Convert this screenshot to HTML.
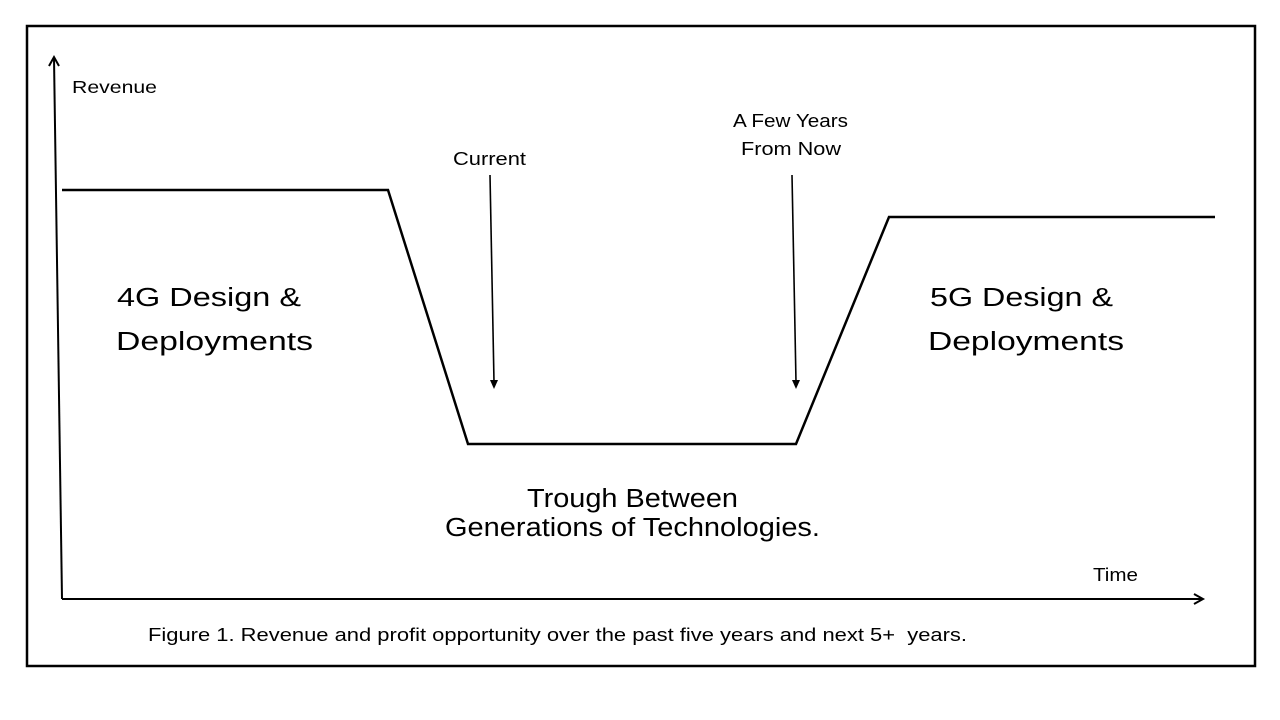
<!DOCTYPE html>
<html>
<head>
<meta charset="utf-8">
<style>
  html, body { margin: 0; padding: 0; background: #fff; }
  svg { display: block; }
  text { font-family: "Liberation Sans", sans-serif; fill: #000; }
</style>
</head>
<body>
<svg width="1280" height="720" viewBox="0 0 1280 720" xmlns="http://www.w3.org/2000/svg">
  <rect x="0" y="0" width="1280" height="720" fill="#fff"/>
  <!-- outer frame -->
  <rect x="27" y="26" width="1228" height="640" fill="none" stroke="#000" stroke-width="2.5"/>

  <!-- y axis -->
  <line x1="62" y1="599" x2="54" y2="58" stroke="#000" stroke-width="2"/>
  <polyline points="49,66 54,57 59,66" fill="none" stroke="#000" stroke-width="2"/>
  <!-- x axis -->
  <line x1="62" y1="599" x2="1203" y2="599" stroke="#000" stroke-width="2"/>
  <polyline points="1194,594 1203,599 1194,604" fill="none" stroke="#000" stroke-width="2"/>

  <!-- revenue curve -->
  <polyline points="62,190 388,190 468,444 796,444 889,217 1215,217" fill="none" stroke="#000" stroke-width="2.5" stroke-linejoin="miter"/>

  <!-- pointer arrows -->
  <line x1="490" y1="175" x2="494" y2="382" stroke="#000" stroke-width="1.6"/>
  <polygon points="490,380 498,380 494,389" fill="#000"/>
  <line x1="792" y1="175" x2="796" y2="382" stroke="#000" stroke-width="1.6"/>
  <polygon points="792,380 800,380 796,389" fill="#000"/>

  <!-- labels -->
  <text x="72" y="93" font-size="17.5" textLength="85" lengthAdjust="spacingAndGlyphs">Revenue</text>
  <text x="453" y="165" font-size="18.5" textLength="73" lengthAdjust="spacingAndGlyphs">Current</text>
  <text x="733" y="127" font-size="18.5" textLength="115" lengthAdjust="spacingAndGlyphs">A Few Years</text>
  <text x="741" y="155" font-size="18.5" textLength="100" lengthAdjust="spacingAndGlyphs">From Now</text>

  <text x="117" y="306" font-size="25.5" textLength="184" lengthAdjust="spacingAndGlyphs">4G Design &amp;</text>
  <text x="116" y="350" font-size="25.5" textLength="197" lengthAdjust="spacingAndGlyphs">Deployments</text>

  <text x="930" y="306" font-size="25.5" textLength="183" lengthAdjust="spacingAndGlyphs">5G Design &amp;</text>
  <text x="928" y="350" font-size="25.5" textLength="196" lengthAdjust="spacingAndGlyphs">Deployments</text>

  <text x="527" y="507" font-size="25.5" textLength="211" lengthAdjust="spacingAndGlyphs">Trough Between</text>
  <text x="445" y="536" font-size="25.5" textLength="375" lengthAdjust="spacingAndGlyphs">Generations of Technologies.</text>

  <text x="1093" y="581" font-size="18.5" textLength="45" lengthAdjust="spacingAndGlyphs">Time</text>

  <text x="148" y="641" font-size="18" textLength="819" lengthAdjust="spacingAndGlyphs">Figure 1. Revenue and profit opportunity over the past five years and next 5+&#160; years.</text>
</svg>
</body>
</html>
